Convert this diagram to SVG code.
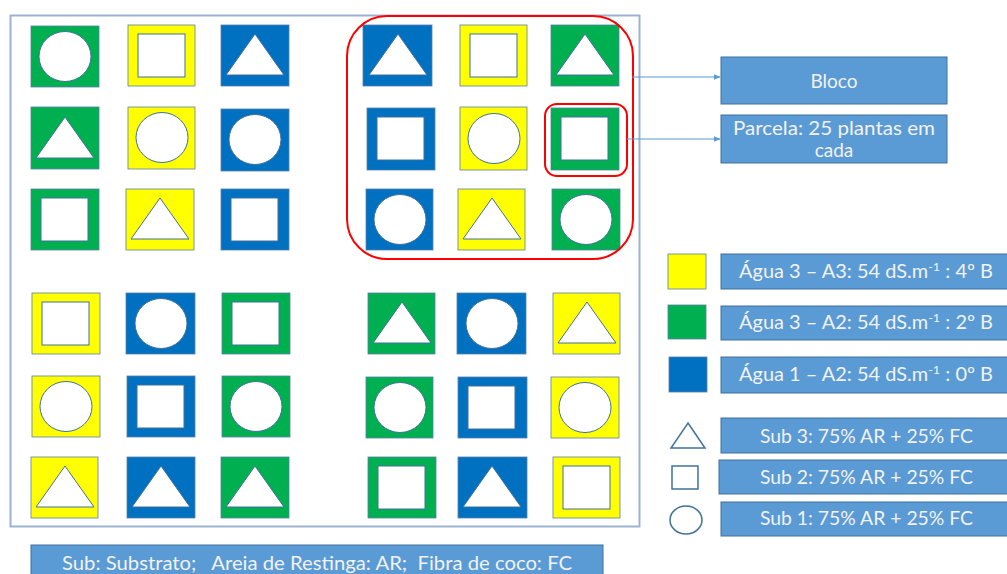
<svg xmlns="http://www.w3.org/2000/svg" width="1007" height="574" viewBox="0 0 1007 574">
<defs>
<style>
.g{fill:#00B050;stroke:#5A7FA8;stroke-width:0.8}
.y{fill:#FFFF00;stroke:#5A7FA8;stroke-width:0.8}
.b{fill:#0070C0;stroke:#5A7FA8;stroke-width:0.8}
.w{fill:#FFFFFF;stroke:#41719C;stroke-width:1}
.lbl{fill:#5B9BD5;stroke:#41719C;stroke-width:1}
.t{font-family:Lato,"Open Sans","Liberation Sans",sans-serif;font-size:19px;fill:#F2F2F2;text-anchor:middle}
.red{fill:none;stroke:#FF0000;stroke-width:2}
.conn{stroke:#5B9BD5;stroke-width:1.2;fill:none}
</style>
<marker id="arr" viewBox="0 0 10 10" refX="9" refY="5" markerWidth="7" markerHeight="7" orient="auto" markerUnits="userSpaceOnUse">
<path d="M0,1 L10,5 L0,9 z" fill="#5B9BD5"/>
</marker>
<g id="ci"><ellipse cx="34" cy="30.5" rx="26" ry="25" class="w"/></g>
<g id="sq"><rect x="10" y="9" width="47" height="43" class="w"/></g>
<g id="tr"><polygon points="34,9 63,50 5,50" class="w"/></g>
</defs>

<rect id="frame" x="10.5" y="15.5" width="629" height="511" fill="none" stroke="#9BB3D3" stroke-width="2"/>

<!-- Top-left block -->
<g id="tl-1"><rect x="31" y="26" width="68" height="61" class="g"/><use href="#ci" x="31" y="26"/></g>
<g id="tl-2"><rect x="128" y="25" width="67" height="61" class="y"/><use href="#sq" x="128" y="25"/></g>
<g id="tl-3"><rect x="221" y="25" width="68" height="61" class="b"/><use href="#tr" x="221" y="25"/></g>
<g id="tl-4"><rect x="31" y="107" width="68" height="62" class="g"/><use href="#tr" x="31" y="108"/></g>
<g id="tl-5"><rect x="128" y="107" width="67" height="62" class="y"/><use href="#ci" x="128" y="107"/></g>
<g id="tl-6"><rect x="221" y="109" width="68" height="62" class="b"/><use href="#ci" x="221" y="109"/></g>
<g id="tl-7"><rect x="31" y="189" width="68" height="61" class="g"/><use href="#sq" x="31" y="189"/></g>
<g id="tl-8"><rect x="126" y="189" width="68" height="61" class="y"/><use href="#tr" x="126" y="189"/></g>
<g id="tl-9"><rect x="221" y="189" width="68" height="61" class="b"/><use href="#sq" x="221" y="189"/></g>

<!-- Top-right block -->
<g id="tr-1"><rect x="363" y="25" width="69" height="61" class="b"/><use href="#tr" x="364" y="25"/></g>
<g id="tr-2"><rect x="460" y="25" width="67" height="61" class="y"/><use href="#sq" x="460" y="25"/></g>
<g id="tr-3"><rect x="551" y="25" width="68" height="61" class="g"/><use href="#tr" x="551" y="25"/></g>
<g id="tr-4"><rect x="367" y="108" width="68" height="62" class="b"/><use href="#sq" x="367" y="108"/></g>
<g id="tr-5"><rect x="460" y="107" width="67" height="63" class="y"/><use href="#ci" x="460" y="108"/></g>
<g id="tr-6"><rect x="551" y="108" width="68" height="62" class="g"/><use href="#sq" x="551" y="108"/></g>
<g id="tr-7"><rect x="366" y="189" width="67" height="61" class="b"/><use href="#ci" x="366" y="189"/></g>
<g id="tr-8"><rect x="458" y="189" width="67" height="61" class="y"/><use href="#tr" x="458" y="189"/></g>
<g id="tr-9"><rect x="552" y="189" width="68" height="61" class="g"/><use href="#ci" x="552" y="189"/></g>

<!-- Bottom-left block -->
<g id="bl-1"><rect x="32" y="293" width="68" height="61" class="y"/><use href="#sq" x="32" y="293"/></g>
<g id="bl-2"><rect x="126" y="293" width="69" height="61" class="b"/><use href="#ci" x="127" y="293"/></g>
<g id="bl-3"><rect x="222" y="293" width="68" height="61" class="g"/><use href="#sq" x="222" y="293"/></g>
<g id="bl-4"><rect x="32" y="376" width="68" height="61" class="y"/><use href="#ci" x="32" y="376"/></g>
<g id="bl-5"><rect x="127" y="376" width="68" height="61" class="b"/><use href="#sq" x="127" y="376"/></g>
<g id="bl-6"><rect x="222" y="376" width="68" height="61" class="g"/><use href="#ci" x="222" y="376"/></g>
<g id="bl-7"><rect x="31" y="457" width="67" height="61" class="y"/><use href="#tr" x="31" y="457"/></g>
<g id="bl-8"><rect x="127" y="457" width="68" height="61" class="b"/><use href="#tr" x="127" y="457"/></g>
<g id="bl-9"><rect x="221" y="457" width="68" height="61" class="g"/><use href="#tr" x="221" y="457"/></g>

<!-- Bottom-right block -->
<g id="br-1"><rect x="368" y="293" width="67" height="61" class="g"/><use href="#tr" x="368" y="293"/></g>
<g id="br-2"><rect x="457" y="293" width="69" height="61" class="b"/><use href="#ci" x="458" y="293"/></g>
<g id="br-3"><rect x="553" y="293" width="67" height="61" class="y"/><use href="#tr" x="553" y="293"/></g>
<g id="br-4"><rect x="366" y="377" width="67" height="61" class="g"/><use href="#ci" x="366" y="377"/></g>
<g id="br-5"><rect x="458" y="377" width="69" height="61" class="b"/><use href="#sq" x="458" y="377"/></g>
<g id="br-6"><rect x="551" y="377" width="68" height="61" class="y"/><use href="#ci" x="551" y="377"/></g>
<g id="br-7"><rect x="368" y="457" width="68" height="61" class="g"/><use href="#sq" x="368" y="457"/></g>
<g id="br-8"><rect x="458" y="457" width="69" height="61" class="b"/><use href="#tr" x="458" y="457"/></g>
<g id="br-9"><rect x="553" y="457" width="67" height="61" class="y"/><use href="#sq" x="553" y="457"/></g>

<!-- Highlights -->
<g id="bloco-highlight"><rect x="347" y="16" width="286" height="243" rx="40" ry="40" class="red"/></g>
<g id="parcela-highlight"><rect x="545" y="104" width="82" height="72" rx="12" ry="12" class="red" stroke-width="1.2" stroke="#F05050"/></g>

<!-- Connectors -->
<g id="connectors">
<line x1="632" y1="77" x2="720" y2="77" class="conn" marker-end="url(#arr)"/>
<line x1="627" y1="139" x2="720" y2="139" class="conn" marker-end="url(#arr)"/>
</g>

<!-- Labels -->
<g id="bloco"><rect x="721" y="57" width="226" height="47" class="lbl"/><text x="834" y="88" class="t">Bloco</text></g>
<g id="parcela"><rect x="721" y="115" width="226" height="48" class="lbl"/><text x="834" y="135" class="t" textLength="202" lengthAdjust="spacingAndGlyphs">Parcela: 25 plantas em</text><text x="834" y="157" class="t">cada</text></g>

<!-- Water legend -->
<g id="leg-a3"><rect x="668" y="254" width="38" height="35" class="y" stroke="#6F8FAF" stroke-width="1.5"/><rect x="721" y="254" width="300" height="35" class="lbl"/><text x="866" y="277.5" class="t" textLength="254" lengthAdjust="spacingAndGlyphs">Água 3 – A3: 54 dS.m<tspan font-size="12" dy="-7">-1</tspan><tspan dy="7"> : 4º B</tspan></text></g>
<g id="leg-a2"><rect x="668" y="305" width="38" height="34" class="g" stroke="#6F8FAF" stroke-width="1.5"/><rect x="721" y="306" width="300" height="34" class="lbl"/><text x="866" y="328.5" class="t" textLength="254" lengthAdjust="spacingAndGlyphs">Água 3 – A2: 54 dS.m<tspan font-size="12" dy="-7">-1</tspan><tspan dy="7"> : 2º B</tspan></text></g>
<g id="leg-a1"><rect x="669" y="357" width="38" height="35" class="b" stroke="#6F8FAF" stroke-width="1.5"/><rect x="721" y="357" width="300" height="36" class="lbl"/><text x="866" y="380.5" class="t" textLength="254" lengthAdjust="spacingAndGlyphs">Água 1 – A2: 54 dS.m<tspan font-size="12" dy="-7">-1</tspan><tspan dy="7"> : 0º B</tspan></text></g>

<!-- Substrate legend -->
<g id="leg-s3"><polygon points="688,423 705,448 671,448" fill="#fff" stroke="#41719C" stroke-width="1.5"/><rect x="721" y="418" width="300" height="35" class="lbl"/><text x="866.5" y="442.5" class="t" textLength="213" lengthAdjust="spacingAndGlyphs">Sub 3: 75% AR + 25% FC</text></g>
<g id="leg-s2"><rect x="672" y="466" width="26" height="23" fill="#fff" stroke="#41719C" stroke-width="1.5"/><rect x="719" y="460" width="300" height="34" class="lbl"/><text x="866.5" y="484" class="t" textLength="213" lengthAdjust="spacingAndGlyphs">Sub 2: 75% AR + 25% FC</text></g>
<g id="leg-s1"><ellipse cx="686" cy="520" rx="16" ry="14" fill="#fff" stroke="#41719C" stroke-width="1.5"/><rect x="721" y="502" width="300" height="34" class="lbl"/><text x="866.5" y="525" class="t" textLength="213" lengthAdjust="spacingAndGlyphs">Sub 1: 75% AR + 25% FC</text></g>

<!-- Footnote -->
<g id="footnote"><rect x="31" y="545" width="572" height="40" class="lbl"/><text x="62" y="570" class="t" style="text-anchor:start" xml:space="preserve" textLength="510" lengthAdjust="spacingAndGlyphs">Sub: Substrato;   Areia de Restinga: AR;  Fibra de coco: FC</text></g>
</svg>
